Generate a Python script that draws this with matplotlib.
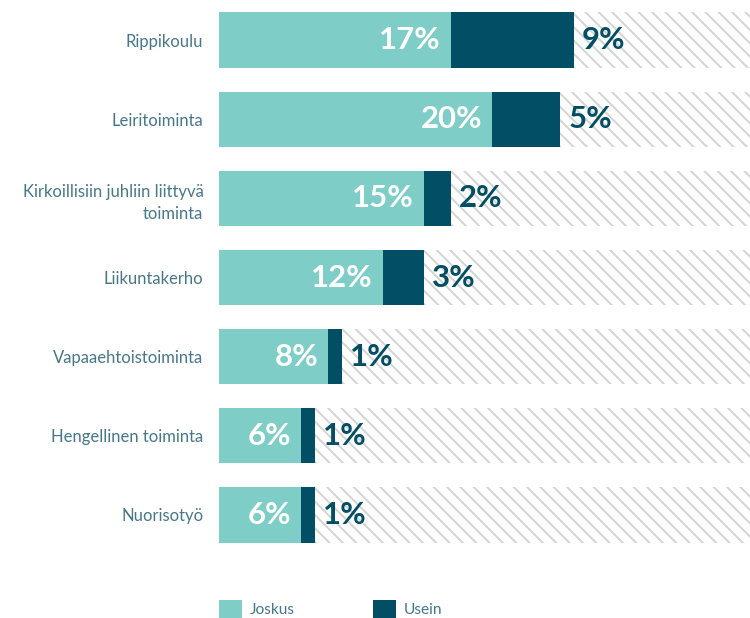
import matplotlib.pyplot as plt
from matplotlib.patches import Patch

categories = ["Rippikoulu", "Leiritoiminta", "Kirkoillisiin juhliin liittyvä\ntoiminta",
              "Liikuntakerho", "Vapaaehtoistoiminta", "Hengellinen toiminta", "Nuorisotyö"]
joskus = [17, 20, 15, 12, 8, 6, 6]
usein = [9, 5, 2, 3, 1, 1, 1]

light = "#7ecdc7"
dark = "#024e64"
label_col = "#46788a"

plt.rcParams['font.family'] = ['Lato', 'DejaVu Sans']
plt.rcParams['hatch.linewidth'] = 1.8

DPI = 80
fig = plt.figure(figsize=(750 / DPI, 618 / DPI), dpi=DPI)
ax = fig.add_axes([219 / 750, 1 - 554.5 / 618, 1 - 219 / 750, 554 / 618])

y = list(range(len(categories)))
ax.barh(y, [100] * len(y), height=0.7, color="white", edgecolor="#d4d4d4",
        linewidth=0, hatch="\\\\")
ax.barh(y, joskus, height=0.7, color=light, linewidth=0)
ax.barh(y, usein, left=joskus, height=0.7, color=dark, linewidth=0)

for i in y:
    ax.annotate(f"{joskus[i]}%", (joskus[i], i), xytext=(-10, 0), textcoords="offset pixels",
                ha="right", va="center", color="white", fontsize=28, fontweight="bold")
    ax.annotate(f"{usein[i]}%", (joskus[i] + usein[i], i), xytext=(8, 0),
                textcoords="offset pixels", ha="left", va="center", color=dark,
                fontsize=28, fontweight="bold")

ax.set_xlim(0, (750 - 219) / 13.65)
ax.set_ylim(len(y) - 0.5, -0.5)
ax.set_yticks(y)
ax.set_yticklabels(categories, fontsize=15, color=label_col, linespacing=1.45)
ax.tick_params(axis="y", length=0, pad=14)
ax.set_xticks([])
for s in ax.spines.values():
    s.set_visible(False)

handles = [Patch(facecolor=light, label="Joskus"), Patch(facecolor=dark, label="Usein")]
leg = fig.legend(handles=handles, loc="lower left", bbox_to_anchor=(219 / 750, 0), ncol=2,
                 frameon=False, fontsize=14, handlelength=1.5, handleheight=1.4,
                 handletextpad=0.5, columnspacing=5.0, borderpad=0, borderaxespad=0)
for t in leg.get_texts():
    t.set_color(label_col)

fig.savefig("out.png", dpi=DPI)
